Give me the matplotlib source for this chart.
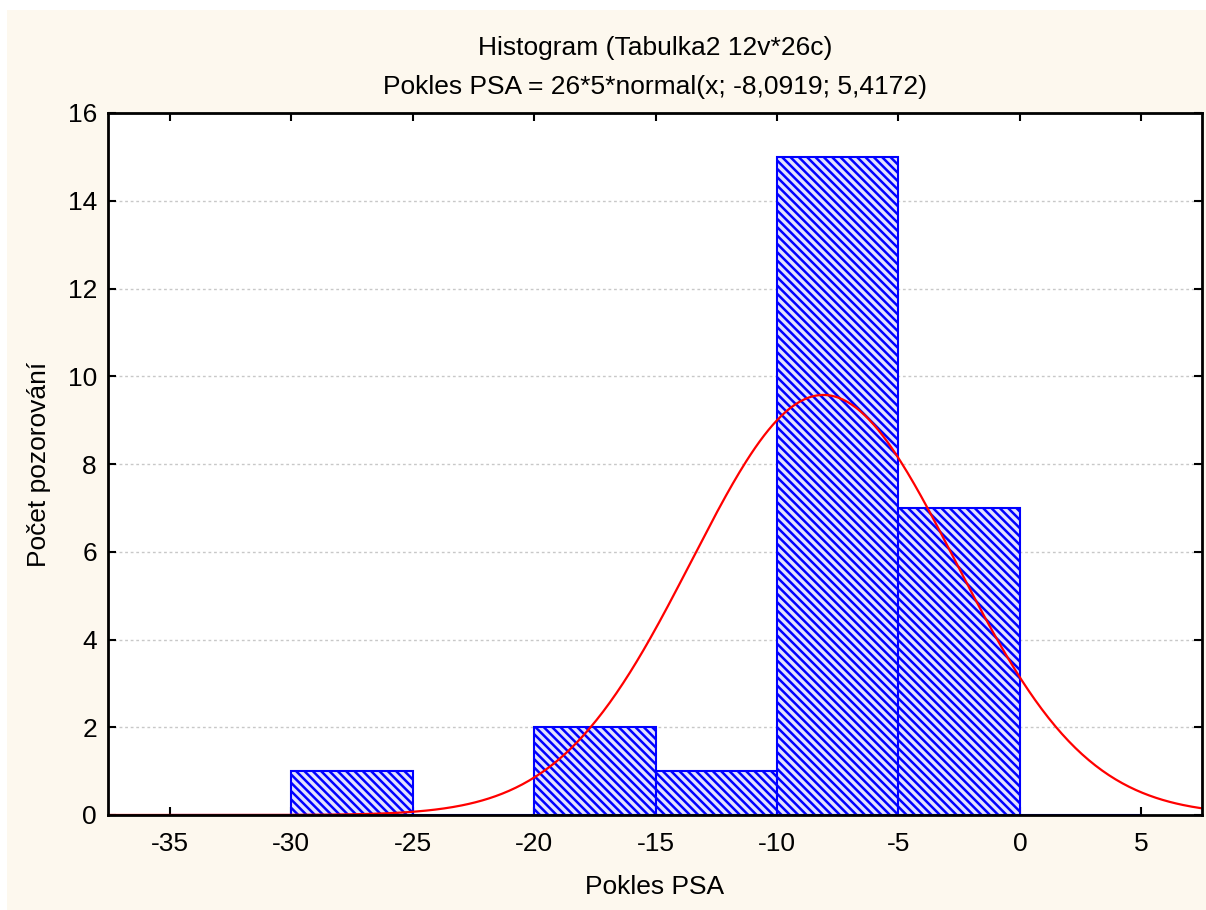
import numpy as np
import matplotlib
matplotlib.use("Agg")
import matplotlib.pyplot as plt
from matplotlib.patches import Rectangle

plt.rcParams['font.family'] = ['Liberation Sans', 'DejaVu Sans']
plt.rcParams['hatch.linewidth'] = 1.8
plt.rcParams['hatch.color'] = '#0000FF'

# histogram data (bin edges of width 5)
bin_left = [-35, -30, -25, -20, -15, -10, -5, 0]
counts = [0, 1, 0, 2, 1, 15, 7, 0]
bin_width = 5

# fitted normal curve parameters from the title
n_obs = 26
mu = -8.0919
sigma = 5.4172

x_ticks = [-35, -30, -25, -20, -15, -10, -5, 0, 5]
y_ticks = [0, 2, 4, 6, 8, 10, 12, 14, 16]

FS = 19

fig = plt.figure(figsize=(12.06, 9.10), dpi=100, facecolor='white')
fig.patches.append(Rectangle((7 / 1206, 0), 1 - 7 / 1206, 1 - 10 / 910,
                             transform=fig.transFigure, facecolor='#FDF8EE',
                             edgecolor='none', zorder=-10))

ax = fig.add_axes([108 / 1206, 1 - 815 / 910, (1202 - 108) / 1206, (815 - 113) / 910])
ax.set_facecolor('white')

ax.bar(bin_left, counts, width=bin_width, align='edge', facecolor='#E2E2FF',
       edgecolor='#0000FF', hatch='\\\\\\\\', linewidth=1.5, zorder=2)

xs = np.linspace(-38, 8, 500)
ys = n_obs * bin_width * np.exp(-0.5 * ((xs - mu) / sigma) ** 2) / (sigma * np.sqrt(2 * np.pi))
ax.plot(xs, ys, color='#FF0000', linewidth=1.6, zorder=3)

ax.set_xlim(-37.55, 7.5)
ax.set_ylim(0, 16)
ax.set_xticks(x_ticks)
ax.set_yticks(y_ticks)
ax.set_xticklabels([str(t) for t in x_ticks])
ax.tick_params(direction='in', top=True, right=True, labelsize=FS, length=6,
               width=1.5, pad=12)
ax.tick_params(axis='y', pad=8)
ax.grid(axis='y', color='#C8C8C8', linestyle=(0, (2, 2)), linewidth=1, zorder=1)
ax.set_axisbelow(True)
for s in ax.spines.values():
    s.set_linewidth(2)
    s.set_zorder(4)

ax.set_xlabel('Pokles PSA', fontsize=FS, labelpad=14)
ax.set_ylabel('Počet pozorování', fontsize=FS, labelpad=12)
ax.set_title('Histogram (Tabulka2 12v*26c)\nPokles PSA = 26*5*normal(x; -8,0919; 5,4172)',
             fontsize=FS, linespacing=1.75, pad=14)

fig.savefig('out.png', dpi=100, facecolor=fig.get_facecolor())
